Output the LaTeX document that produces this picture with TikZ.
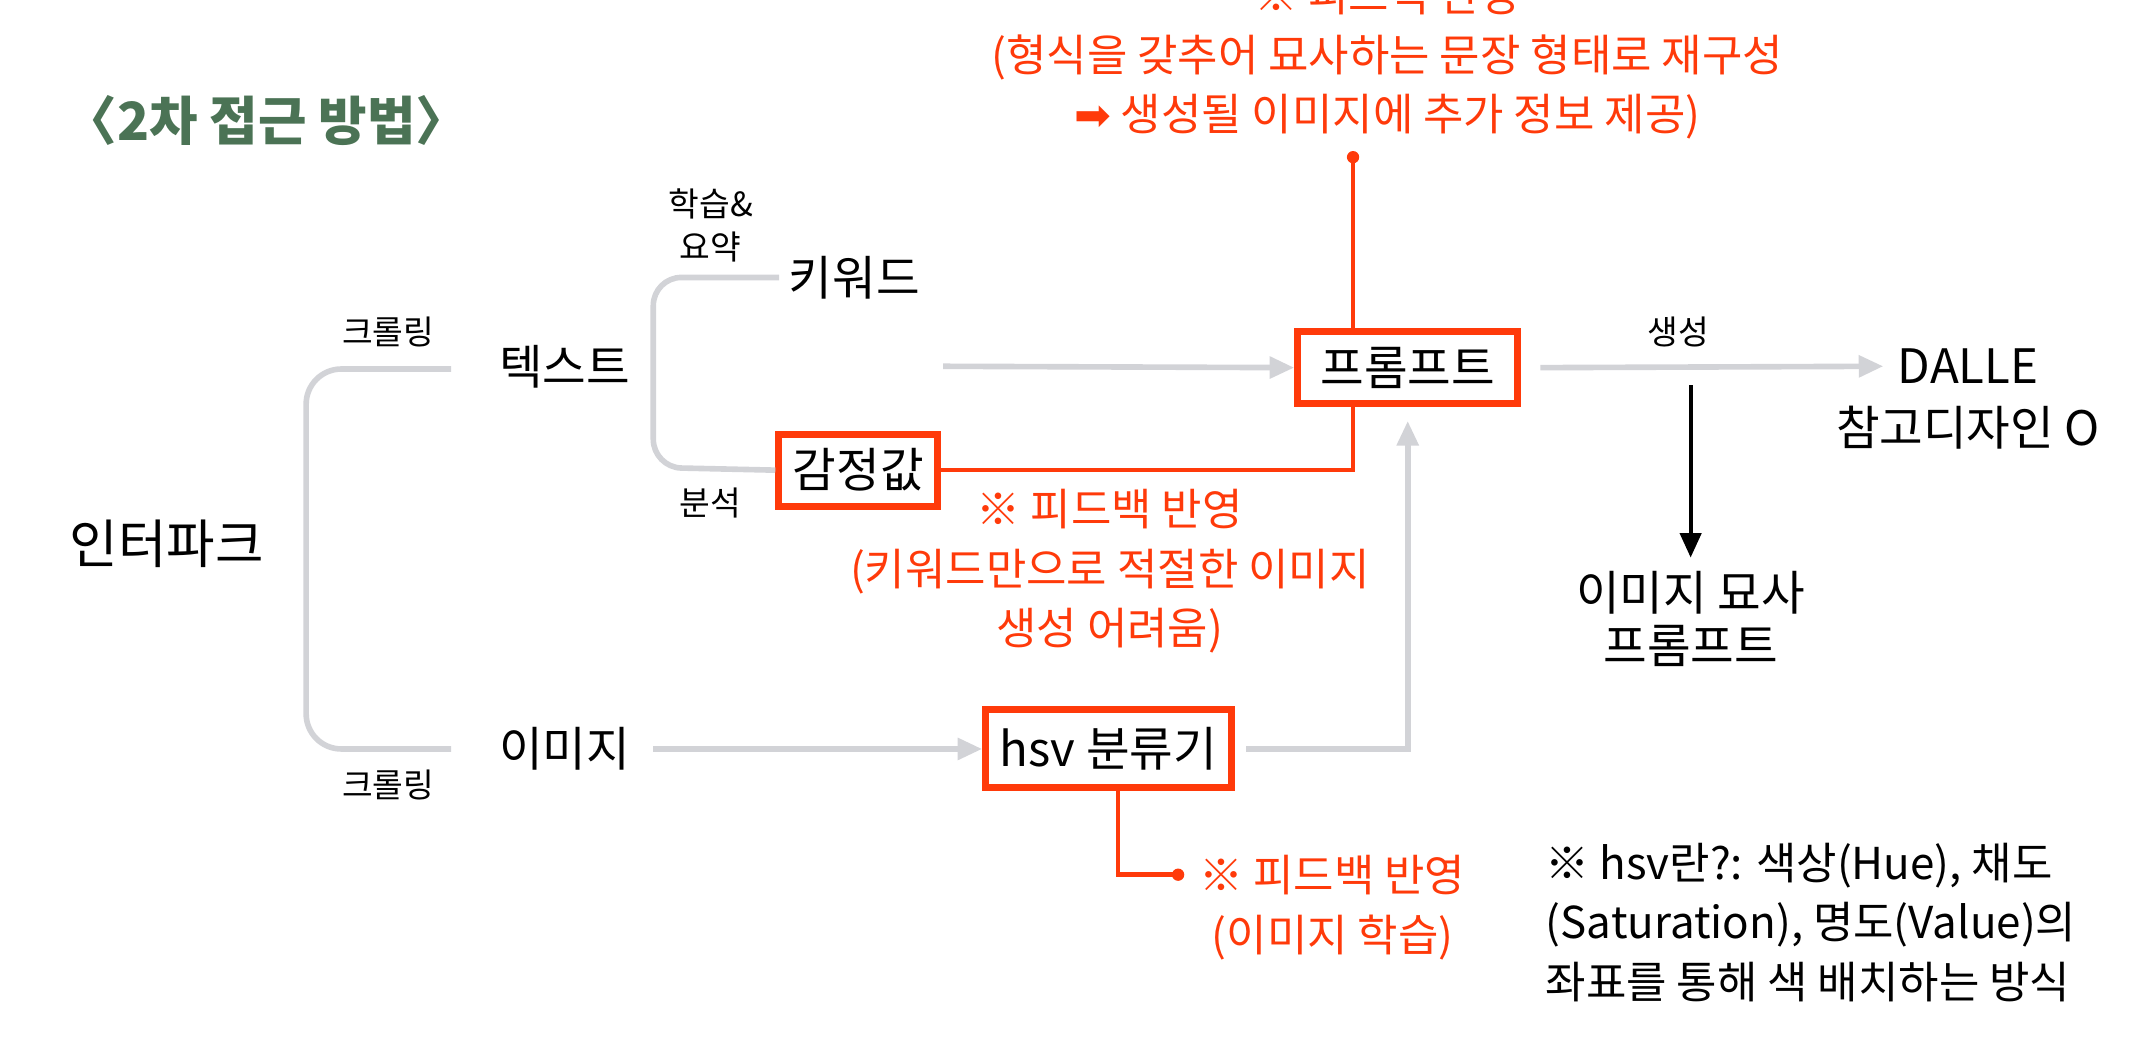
\documentclass[tikz,border=0pt]{standalone}
\usepackage{fontspec}
\setmainfont{Noto Sans CJK KR}
\usetikzlibrary{arrows.meta}
\definecolor{rd}{HTML}{FF3A0A}
\definecolor{gr}{HTML}{D2D3D7}
\definecolor{gn}{HTML}{4B7355}
\tikzset{
 big/.style={font=\fontsize{13.5}{15}\selectfont,inner sep=2pt},
 sm/.style={font=\fontsize{9.5}{12}\selectfont,align=center},
 rtxt/.style={text=rd,font=\fontsize{12.5}{17}\selectfont,align=center},
 rbox/.style={draw=rd,line width=2pt,font=\fontsize{13.5}{15}\selectfont,minimum height=0.72cm,inner sep=4pt},
 gline/.style={gr,line width=1.6pt},
 garr/.style={gr,line width=1.6pt,-{Triangle[length=7pt,width=6pt]}},
 rline/.style={rd,line width=1.3pt}
}
\begin{document}
\begin{tikzpicture}[x=0.01367cm,y=-0.01367cm]
\useasboundingbox (0,0) rectangle (1568,768);
\clip (0,0) rectangle (1568,768);
\node[text=gn,font=\fontsize{15}{18}\selectfont\bfseries] (title) at (195,88) {〈2차 접근 방법〉};
\node[big,font=\fontsize{15}{17}\selectfont] (ip) at (122,398) {인터파크};
\node[big] (tx) at (413,268) {텍스트};
\node[big] (im) at (413,548) {이미지};
\node[big] (kw) at (625,203) {키워드};
\node[rbox] (em) at (628,344) {감정값};
\node[rbox,minimum width=2.2cm] (pr) at (1030,269) {프롬프트};
\node[rbox,minimum width=2.3cm,minimum height=0.78cm] (hsv) at (811,548) {hsv 분류기};
\node[big] (da) at (1440,268) {DALLE};
\node[big] (ref) at (1440,313) {참고디자인 O};
\node[big,align=center] (desc) at (1237,453) {이미지 묘사\\프롬프트};
\node[sm] (c1) at (284,243) {크롤링};
\node[sm] (c2) at (284,574) {크롤링};
\node[sm] (ls) at (520,165) {학습\&\\요약};
\node[sm] (an) at (520,368) {분석};
\node[sm] (gen) at (1228,243) {생성};
% grey bracket
\draw[gline,rounded corners=10pt] (330,270) -- (224,270) -- (224,548) -- (330,548);
\draw[gline,rounded corners=8pt] (570,203) -- (478,203) -- (478,342) -- (em.west);
\draw[garr] (690,268) -- (pr.west);
\draw[garr] (pr.east)++(14,0) -- (1378,268);
\draw[black,line width=1.2pt,-{Triangle[length=7pt,width=6pt]}] (1237,282) -- (1237,408);
\draw[garr] (478,548) -- (hsv.west);
\draw[garr] (912,548) -- (1030,548) -- (1030,308);
% red
\draw[rline] (em.east) -- (990,344) -- (990,298);
\coordinate (d1) at (990,115);
\draw[rline] (990,240) -- (d1);
\fill[rd] (d1) circle (4.5);
\node[rtxt] (t1) at (1015,42) {※ 피드백 반영\\(형식을 갖추어 묘사하는 문장 형태로 재구성\\{\fontspec{DejaVu Sans}➡} 생성될 이미지에 추가 정보 제공)};
\node[rtxt] (t2) at (812,418) {※ 피드백 반영\\(키워드만으로 적절한 이미지\\생성 어려움)};
\coordinate (d2) at (862,640);
\draw[rline] (818,578) -- (818,640) -- (d2);
\fill[rd] (d2) circle (4.5);
\node[rtxt] (t3) at (975,664) {※ 피드백 반영\\(이미지 학습)};
\node[font=\fontsize{12.5}{17}\selectfont,align=left,anchor=west] (note) at (1122,675) {※ hsv란?: 색상(Hue), 채도\\(Saturation), 명도(Value)의\\좌표를 통해 색 배치하는 방식};
\end{tikzpicture}
\end{document}
